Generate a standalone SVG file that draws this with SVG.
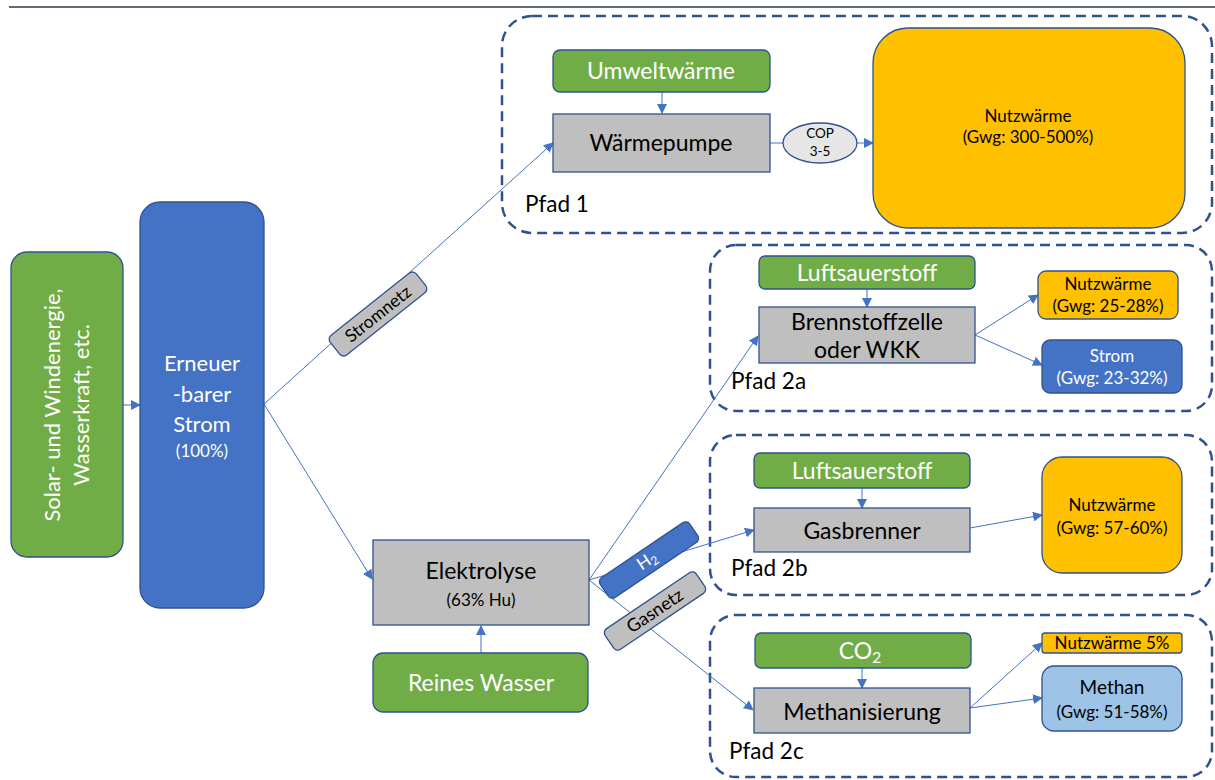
<svg xmlns="http://www.w3.org/2000/svg" width="1215" height="780" viewBox="0 0 1215 780">
<defs>
<marker id="ah" viewBox="0 0 10 10" refX="9" refY="5" markerWidth="10" markerHeight="10" markerUnits="userSpaceOnUse" orient="auto">
<path d="M0,0 L10,5 L0,10 z" fill="#4472c4"/>
</marker>
<style>
text{font-family:Lato,"Liberation Sans",sans-serif;text-anchor:middle}
.g{fill:#70ad47;stroke:#2f528f;stroke-width:1.3}
.b{fill:#4472c4;stroke:#2f528f;stroke-width:1.3}
.gr{fill:#bfbfbf;stroke:#2f528f;stroke-width:1.3}
.o{fill:#ffc000;stroke:#2f528f;stroke-width:1.3}
.lb{fill:#9dc3e6;stroke:#2f528f;stroke-width:1.3}
.grp{fill:none;stroke:#2f528f;stroke-width:2.5;stroke-dasharray:10 6}
.c{fill:none;stroke:#4472c4;stroke-width:1;marker-end:url(#ah)}
.cl{fill:none;stroke:#4472c4;stroke-width:1}
.w20{fill:#fff;font-size:23px}
.w22{fill:#fff;font-size:22px}
.k20{fill:#000;font-size:23px}
.w14{fill:#fff;font-size:17px}
.k14{fill:#000;font-size:17px}
.k12{fill:#000;font-size:13.5px}
.k16{fill:#000;font-size:17.5px}
.k18{fill:#000;font-size:18px}
.k19{fill:#000;font-size:19px}
.p{fill:#000;font-size:22.5px;text-anchor:start}
</style>
</defs>
<rect width="1215" height="780" fill="#fff"/>
<line x1="9" y1="7" x2="1215" y2="7" stroke="#5f6b77" stroke-width="2"/>

<g id="groups">
<rect class="grp" x="502" y="16" width="710" height="217" rx="30"/>
<rect class="grp" x="710" y="245" width="502" height="166" rx="26"/>
<rect class="grp" x="710" y="435" width="502" height="160" rx="26"/>
<rect class="grp" x="710" y="615" width="502" height="162" rx="26"/>
</g>

<g id="connectors">
<line class="c" x1="123" y1="405" x2="140" y2="405"/>
<line class="c" x1="264" y1="404" x2="553" y2="143"/>
<line class="c" x1="264" y1="404" x2="372" y2="579"/>
<line class="c" x1="481" y1="653" x2="481" y2="626"/>
<line class="c" x1="662" y1="92" x2="662" y2="113"/>
<line class="cl" x1="770" y1="143" x2="783" y2="143"/>
<line class="c" x1="857" y1="143" x2="873" y2="143"/>
<line class="c" x1="589" y1="580" x2="758" y2="336"/>
<line class="c" x1="589" y1="580" x2="754" y2="530"/>
<line class="c" x1="589" y1="580" x2="753" y2="710"/>
<line class="c" x1="867" y1="289" x2="867" y2="307"/>
<line class="c" x1="975" y1="335" x2="1038" y2="295"/>
<line class="c" x1="975" y1="335" x2="1042" y2="365"/>
<line class="c" x1="862" y1="488" x2="862" y2="508"/>
<line class="c" x1="970" y1="528" x2="1042" y2="515"/>
<line class="c" x1="862" y1="668" x2="862" y2="688"/>
<line class="c" x1="970" y1="708" x2="1042" y2="643"/>
<line class="c" x1="970" y1="708" x2="1042" y2="698"/>
</g>

<g id="solar">
<rect class="g" x="11" y="252" width="112" height="305" rx="16"/>
<text class="w22" transform="translate(60,405) rotate(-90)">Solar- und Windenergie,</text>
<text class="w22" transform="translate(89,405) rotate(-90)">Wasserkraft, etc.</text>
</g>

<g id="strom">
<rect class="b" x="140" y="202" width="124" height="406" rx="20"/>
<text class="w22" x="202" y="371">Erneuer</text>
<text class="w22" x="202" y="402">-barer</text>
<text class="w22" x="202" y="432">Strom</text>
<text class="w14" x="202" y="457">(100%)</text>
</g>

<g id="stromnetz" transform="translate(378,314) rotate(-38.5)">
<rect class="gr" x="-55" y="-12.5" width="110" height="25" rx="5"/>
<text class="k16" x="0" y="6">Stromnetz</text>
</g>

<g id="umweltwaerme">
<rect class="g" x="553" y="50" width="217" height="42" rx="7"/>
<text class="w20" x="661" y="79">Umweltwärme</text>
</g>
<g id="waermepumpe">
<rect class="gr" x="553" y="114" width="217" height="58"/>
<text class="k20" x="661" y="151">Wärmepumpe</text>
</g>
<g id="cop">
<ellipse cx="820" cy="143" rx="37" ry="20" fill="#e7e6e6" stroke="#2f528f" stroke-width="1.3"/>
<text class="k12" x="820" y="138">COP</text>
<text class="k12" x="820" y="156">3-5</text>
</g>
<g id="nutz1">
<rect class="o" x="873" y="28" width="312" height="200" rx="35"/>
<text class="k14" x="1028" y="122">Nutzwärme</text>
<text class="k14" x="1028" y="143">(Gwg: 300-500%)</text>
</g>
<text class="p" x="525" y="212">Pfad 1</text>

<g id="elektrolyse">
<rect class="gr" x="373" y="540" width="216" height="85"/>
<text class="k20" x="481" y="579">Elektrolyse</text>
<text class="k14" x="481" y="606">(63% Hu)</text>
</g>
<g id="wasser">
<rect class="g" x="373" y="653" width="215" height="59" rx="10"/>
<text class="w20" x="481" y="691">Reines Wasser</text>
</g>

<g id="h2" transform="translate(649,560) rotate(-34)">
<rect class="b" x="-54" y="-12" width="108" height="24" rx="5"/>
<text class="w14" x="-2" y="5">H<tspan font-size="12" dy="3">2</tspan></text>
</g>
<g id="gasnetz" transform="translate(655,611) rotate(-34)">
<rect class="gr" x="-55" y="-12.5" width="110" height="25" rx="5"/>
<text class="k18" x="0" y="6">Gasnetz</text>
</g>

<g id="luft2a">
<rect class="g" x="759" y="256" width="216" height="33" rx="6"/>
<text class="w20" x="867" y="281">Luftsauerstoff</text>
</g>
<g id="brennstoffzelle">
<rect class="gr" x="759" y="307" width="216" height="56"/>
<text class="k20" x="867" y="330">Brennstoffzelle</text>
<text class="k20" x="867" y="358">oder WKK</text>
</g>
<g id="nutz2a">
<rect class="o" x="1038" y="271" width="140" height="48" rx="8"/>
<text class="k14" x="1108" y="290">Nutzwärme</text>
<text class="k14" x="1108" y="312">(Gwg: 25-28%)</text>
</g>
<g id="strom2a">
<rect class="b" x="1042" y="340" width="140" height="53" rx="8"/>
<text class="w14" x="1112" y="362">Strom</text>
<text class="w14" x="1112" y="384">(Gwg: 23-32%)</text>
</g>
<text class="p" x="731" y="389">Pfad 2a</text>

<g id="luft2b">
<rect class="g" x="754" y="453" width="216" height="35" rx="6"/>
<text class="w20" x="862" y="479">Luftsauerstoff</text>
</g>
<g id="gasbrenner">
<rect class="gr" x="754" y="508" width="216" height="44"/>
<text class="k20" x="862" y="539">Gasbrenner</text>
</g>
<g id="nutz2b">
<rect class="o" x="1042" y="457" width="140" height="116" rx="20"/>
<text class="k14" x="1112" y="511">Nutzwärme</text>
<text class="k14" x="1112" y="534">(Gwg: 57-60%)</text>
</g>
<text class="p" x="731" y="576">Pfad 2b</text>

<g id="co2">
<rect class="g" x="755" y="633" width="216" height="35" rx="6"/>
<text class="w20" x="860" y="659">CO<tspan font-size="16" dy="4">2</tspan></text>
</g>
<g id="methanisierung">
<rect class="gr" x="754" y="688" width="216" height="45"/>
<text class="k20" x="862" y="720">Methanisierung</text>
</g>
<g id="nutz2c">
<rect class="o" x="1042" y="633" width="140" height="20" rx="3"/>
<text class="k14" x="1112" y="649">Nutzwärme 5%</text>
</g>
<g id="methan">
<rect class="lb" x="1042" y="666" width="140" height="65" rx="12"/>
<text class="k19" x="1112" y="694">Methan</text>
<text class="k14" x="1112" y="718">(Gwg: 51-58%)</text>
</g>
<text class="p" x="729" y="759">Pfad 2c</text>
</svg>
